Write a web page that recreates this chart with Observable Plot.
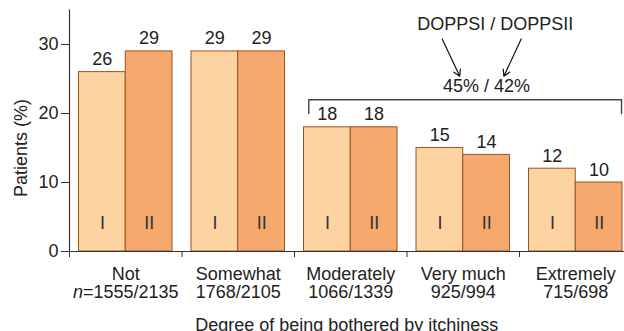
<!DOCTYPE html>
<html>
<head>
<meta charset="utf-8">
<script src="https://cdn.jsdelivr.net/npm/d3@7"></script>
<script src="https://cdn.jsdelivr.net/npm/@observablehq/plot@0.6"></script>
<style>
  html, body { margin: 0; padding: 0; background: #fff; }
</style>
</head>
<body>
<div id="chart"></div>
<script>
// ---- data ----
const categories = ["Not", "Somewhat", "Moderately", "Very much", "Extremely"];
const sampleSizes = ["n=1555/2135", "1768/2105", "1066/1339", "925/994", "715/698"];
const doppsI = [26, 29, 18, 15, 12];
const doppsII = [29, 29, 18, 14, 10];
const seriesNames = ["I", "II"];
const yTicks = [0, 10, 20, 30];
const xTitle = "Degree of being bothered by itchiness";
const yTitle = "Patients (%)";
// annotation (in data units: x = group index, y = percent)
const bracketX = [2.127, 2.127, 4.907, 4.907];
const bracketY = [20, 22, 22, 20];
const annotText = ["DOPPSI / DOPPSII", "45% / 42%"];
const annotX = [3.784, 3.707];
const annotY = [32.1, 23.1];
const arrowX1 = [3.313, 4.015];
const arrowY1 = [30.8, 30.8];
const arrowX2 = [3.469, 3.861];
const arrowY2 = [25.4, 25.4];

// ---- tables built from arrays ----
const rowsI = categories.map((c, i) => ({cat: c, idx: i, value: doppsI[i], s: seriesNames[0]}));
const rowsII = categories.map((c, i) => ({cat: c, idx: i, value: doppsII[i], s: seriesNames[1]}));
const bracket = bracketX.map((x, i) => ({x, y: bracketY[i]}));
const annots = annotText.map((t, i) => ({t, x: annotX[i], y: annotY[i]}));
const arrows = arrowX1.map((x1, i) => ({x1, y1: arrowY1[i], x2: arrowX2[i], y2: arrowY2[i]}));

const lightFill = "#fdd3a1";
const darkFill = "#f6a96e";
const barStroke = "#9a5325";
const ink = "#222";
const FS = 18;
const inset = 9.5;

const svg = Plot.plot({
  width: 624,
  height: 331,
  marginLeft: 69,
  marginRight: 0,
  marginTop: 9.5,
  marginBottom: 80,
  style: {fontFamily: "'Liberation Sans', Arial, Helvetica, sans-serif", fontSize: FS + "px", color: ink, background: "#fff"},
  x: {type: "linear", domain: [0, 5], range: [69, 631.5]},
  y: {domain: [0, 35], range: [251, 9.5]},
  marks: [
    // bars
    Plot.rect(rowsI, {x1: d => d.idx, x2: d => d.idx + 0.5, y1: 0, y2: "value", fill: lightFill, stroke: barStroke, strokeWidth: 1, insetLeft: inset}),
    Plot.rect(rowsII, {x1: d => d.idx + 0.5, x2: d => d.idx + 1, y1: 0, y2: "value", fill: darkFill, stroke: barStroke, strokeWidth: 1, insetRight: inset}),
    // value labels
    Plot.text(rowsI, {x: d => d.idx + 0.25, y: "value", text: d => String(d.value), dx: inset / 2, dy: -7, lineAnchor: "bottom", fontSize: FS, fill: ink}),
    Plot.text(rowsII, {x: d => d.idx + 0.75, y: "value", text: d => String(d.value), dx: -inset / 2, dy: -7, lineAnchor: "bottom", fontSize: FS, fill: ink}),
    // series labels inside bars
    Plot.text(rowsI, {x: d => d.idx + 0.25, y: 0, text: "s", dx: inset / 2, dy: -22.5, lineAnchor: "bottom", fontSize: FS, fill: "#333"}),
    Plot.text(rowsII, {x: d => d.idx + 0.75, y: 0, text: "s", dx: -inset / 2, dy: -22.5, lineAnchor: "bottom", fontSize: FS, fill: "#333"}),
    // axes
    Plot.ruleX([0], {stroke: "#333", strokeWidth: 1.2}),
    Plot.ruleY([0], {stroke: "#333", strokeWidth: 1.2}),
    Plot.axisY({ticks: yTicks, tickSize: 8, tickPadding: 3, label: null, fontSize: FS, stroke: "#333"}),
    Plot.axisX({ticks: [0, 1, 2, 3, 4, 5], tickSize: 6, tickFormat: () => "", label: null, stroke: "#333"}),
    // category labels
    Plot.text(categories, {x: (d, i) => i + 0.5, frameAnchor: "bottom", dy: 28, lineAnchor: "bottom", fontSize: FS, fill: ink}),
    Plot.text(sampleSizes, {x: (d, i) => i + 0.5, frameAnchor: "bottom", dy: 46, lineAnchor: "bottom", fontSize: FS, fill: ink}),
    // titles
    Plot.text([xTitle], {x: 2.5, frameAnchor: "bottom", dx: -4, dy: 79, lineAnchor: "bottom", fontSize: FS, fill: ink}),
    Plot.text([yTitle], {x: 0, y: 15, rotate: -90, dx: -48.3, fontSize: FS, fill: ink}),
    // bracket & annotations
    Plot.line(bracket, {x: "x", y: "y", stroke: "#444", strokeWidth: 1.4}),
    Plot.text(annots, {x: "x", y: "y", text: "t", lineAnchor: "bottom", fontSize: FS, fill: ink}),
    Plot.arrow(arrows, {x1: "x1", y1: "y1", x2: "x2", y2: "y2", stroke: "#111", strokeWidth: 1.2, headLength: 9})
  ]
});

// italic "n" in the first sample-size label
svg.querySelectorAll("text").forEach(t => {
  const s = t.textContent;
  if (s.startsWith("n=") && t.children.length === 0) {
    t.textContent = "";
    const ns = "http://www.w3.org/2000/svg";
    const it = document.createElementNS(ns, "tspan");
    it.setAttribute("font-style", "italic");
    it.textContent = "n";
    t.appendChild(it);
    t.appendChild(document.createTextNode(s.slice(1)));
  }
});

document.getElementById("chart").appendChild(svg);
</script>
</body>
</html>
